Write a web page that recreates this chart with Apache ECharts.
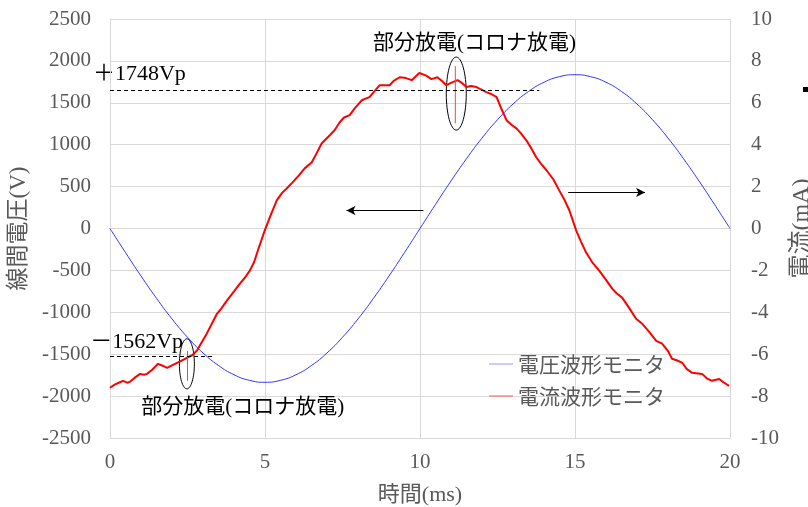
<!DOCTYPE html>
<html><head><meta charset="utf-8">
<script src="https://cdn.jsdelivr.net/npm/echarts@6/dist/echarts.min.js"></script>
<style>html,body{margin:0;padding:0;background:#fff}#c{width:808px;height:507px}</style>
</head><body><div id="c"></div>
<script>
// ---- data ----
const voltageTimes = [0,0.5,1,1.5,2,2.5,3,3.5,4,4.5,5,5.5,6,6.5,7,7.5,8,8.5,9,9.5,10,10.5,11,11.5,12,12.5,13,13.5,14,14.5,15,15.5,16,16.5,17,17.5,18,18.5,19,19.5,20];
const voltageValues = [0,-287,-567,-833,-1079,-1298,-1485,-1635,-1745,-1812,-1835,-1812,-1745,-1635,-1485,-1298,-1079,-833,-567,-287,0,287,567,833,1079,1298,1485,1635,1745,1812,1835,1812,1745,1635,1485,1298,1079,833,567,287,0];
const currentTimes = [0,0.15,0.3,0.42,0.55,0.64,0.8,0.97,1.1,1.19,1.35,1.55,1.7,1.84,2.03,2.25,2.48,2.65,2.8,2.95,3.12,3.3,3.45,3.6,3.77,4.0,4.19,4.35,4.51,4.65,4.77,4.99,5.2,5.38,5.55,5.7,5.89,6.1,6.28,6.51,6.65,6.83,7.09,7.25,7.41,7.55,7.73,7.9,8.12,8.37,8.5,8.7,9.02,9.15,9.34,9.5,9.73,9.98,10.2,10.37,10.56,10.7,10.85,11.0,11.21,11.35,11.5,11.65,11.82,12.0,12.14,12.3,12.47,12.6,12.79,12.95,13.11,13.25,13.43,13.6,13.75,13.9,14.08,14.3,14.49,14.65,14.82,15.04,15.2,15.36,15.55,15.78,16.0,16.2,16.35,16.52,16.75,16.97,17.17,17.4,17.62,17.81,18.0,18.13,18.3,18.46,18.6,18.78,19.1,19.25,19.42,19.65,19.8,19.97];
const currentValues = [-7.6,-7.45,-7.35,-7.27,-7.36,-7.32,-7.12,-6.94,-6.98,-6.94,-6.75,-6.46,-6.55,-6.65,-6.51,-6.35,-6.17,-6.05,-5.84,-5.45,-5.02,-4.5,-4.07,-3.8,-3.44,-3.0,-2.63,-2.35,-2.01,-1.6,-1.05,-0.1,0.7,1.34,1.7,1.91,2.2,2.55,2.87,3.16,3.55,4.07,4.45,4.7,5.07,5.3,5.41,5.75,6.12,6.27,6.5,6.84,6.84,7.05,7.22,7.2,7.08,7.42,7.3,7.13,7.22,7.05,6.84,6.95,7.08,6.95,6.75,6.8,6.75,6.62,6.51,6.42,6.27,5.8,5.17,4.95,4.78,4.55,4.21,3.8,3.4,3.1,2.78,2.35,1.82,1.4,0.86,-0.1,-0.65,-1.15,-1.6,-2.01,-2.45,-2.87,-3.1,-3.3,-3.8,-4.31,-4.55,-4.95,-5.36,-5.5,-5.85,-6.22,-6.3,-6.41,-6.7,-6.89,-6.94,-7.15,-7.27,-7.18,-7.35,-7.51];
// partial discharge pulses: [time, top, bottom]
const pulseTimes = [11.14, 2.50];
const pulseTops = [7.75, -5.84];
const pulseBottoms = [5.02, -7.27];
// reference levels (left axis)
const posLevel = 1650, posLevelEnd = 13.85;
const negLevel = -1530, negLevelEnd = 3.3;
const xTickLabels = ['0','5','10','15','20'];

const seriesNames = ['電圧波形モニタ','電流波形モニタ'];
const serif = '"Liberation Serif","Times New Roman","Noto Sans CJK JP",serif';
const cjk = '"Noto Sans CJK JP","Liberation Serif",sans-serif';
const mixed = '"Liberation Serif","Noto Sans CJK JP",serif';
const grayText = '#595959';
const gridColor = '#d9d9d9';

const voltageData = voltageTimes.map((t,i)=>[t, voltageValues[i]]);
const currentData = currentTimes.map((t,i)=>[t, currentValues[i]]);
const pulseData = [];
pulseTimes.forEach((t,i)=>{ if(i) pulseData.push(null); pulseData.push([t,pulseTops[i]],[t,pulseBottoms[i]]); });

const chart = echarts.init(document.getElementById('c'));
chart.setOption({
  animation:false,
  backgroundColor:'#fff',
  grid:{left:110,right:78,top:19,bottom:69,show:false,containLabel:false,outerBoundsMode:'none'},
  legend:{
    data:seriesNames.map(n=>({name:n,icon:'rect'})), orient:'vertical', left:484, top:347,
    itemWidth:24, itemHeight:1, itemGap:8,
    textStyle:{fontFamily:cjk,fontSize:21,color:grayText,lineHeight:24},
    selectedMode:false
  },
  xAxis:{
    type:'value',min:0,max:20,interval:5,
    axisLine:{show:true,lineStyle:{color:gridColor}},
    axisTick:{show:false},
    splitLine:{show:true,lineStyle:{color:gridColor}},
    axisLabel:{fontFamily:serif,fontSize:21,color:grayText,margin:14,
      formatter:v=>xTickLabels[Math.round(v/5)]},
    name:'時間(ms)',nameLocation:'middle',nameGap:46,
    nameTextStyle:{fontFamily:mixed,fontSize:22,color:grayText}
  },
  yAxis:[{
    type:'value',min:-2500,max:2500,interval:500,
    axisLine:{show:true,lineStyle:{color:gridColor}},
    axisTick:{show:false},
    splitLine:{show:true,lineStyle:{color:gridColor}},
    axisLabel:{fontFamily:serif,fontSize:21,color:grayText,margin:19,formatter:v=>String(v)},
    name:'線間電圧(V)',nameLocation:'middle',nameGap:80,nameRotate:90,
    nameTextStyle:{fontFamily:mixed,fontSize:23,color:grayText}
  },{
    type:'value',min:-10,max:10,interval:2,position:'right',
    axisLine:{show:true,lineStyle:{color:gridColor}},
    axisTick:{show:false},
    splitLine:{show:false},
    axisLabel:{fontFamily:serif,fontSize:21,color:grayText,margin:21,formatter:v=>String(v)},
    name:'電流(mA)',nameLocation:'middle',nameGap:56,nameRotate:90,
    nameTextStyle:{fontFamily:mixed,fontSize:24,color:grayText}
  }],
  series:[{
    name:seriesNames[0],type:'line',yAxisIndex:0,data:voltageData,
    smooth:true,symbol:'none',lineStyle:{color:'#3333ff',width:1},itemStyle:{color:'#9999ff'},
    markLine:{
      silent:true,symbol:['none','none'],label:{show:false},animation:false,
      data:[
        [{coord:[0,posLevel],lineStyle:{color:'#000',type:[4,3],width:1}},{coord:[posLevelEnd,posLevel]}],
        [{coord:[0,negLevel],lineStyle:{color:'#000',type:[4,3],width:1}},{coord:[negLevelEnd,negLevel]}],
        [{coord:[10.11,215],lineStyle:{color:'#000',type:'solid',width:1}},{coord:[7.63,215],symbol:'arrow',symbolSize:[7,9]}],
        [{coord:[14.78,431],lineStyle:{color:'#000',type:'solid',width:1}},{coord:[17.26,431],symbol:'arrow',symbolSize:[7,9]}]
      ]
    }
  },{
    name:seriesNames[1],type:'line',yAxisIndex:1,data:currentData,
    symbol:'none',lineStyle:{color:'#ff0000',width:2},itemStyle:{color:'#ff5555'}
  },{
    name:'pulse',type:'line',yAxisIndex:1,data:pulseData,connectNulls:false,
    symbol:'none',lineStyle:{color:'#ff4040',width:1}
  }]
});

const pV = (t,v)=>chart.convertToPixel({seriesIndex:0},[t,v]);
const pI = (t,i)=>chart.convertToPixel({seriesIndex:1},[t,i]);
const a1 = pV(-0.55,1842), a2 = pV(-0.64,-1352);
const c1 = pV(11.76,2213), c2 = pV(4.28,-2141);
const e1 = pI(11.17,6.44), e2 = pI(2.48,-6.46);
chart.setOption({graphic:[
  {type:'text',x:a1[0],y:a1[1],style:{text:'＋1748Vp',font:'22px '+serif,fill:'#000',align:'left',verticalAlign:'middle'}},
  {type:'text',x:a2[0],y:a2[1],style:{text:'－1562Vp',font:'22px '+serif,fill:'#000',align:'left',verticalAlign:'middle'}},
  {type:'text',x:c1[0],y:c1[1],style:{text:'部分放電(コロナ放電)',font:'21px '+mixed,fill:'#000',align:'center',verticalAlign:'middle'}},
  {type:'text',x:c2[0],y:c2[1],style:{text:'部分放電(コロナ放電)',font:'21px '+mixed,fill:'#000',align:'center',verticalAlign:'middle'}},
  {type:'ellipse',shape:{cx:e1[0],cy:e1[1],rx:10,ry:36.5},style:{fill:'none',stroke:'#000',lineWidth:1}},
  {type:'ellipse',shape:{cx:e2[0],cy:e2[1],rx:7.5,ry:25},style:{fill:'none',stroke:'#000',lineWidth:1}},
  {type:'rect',shape:{x:803,y:87,width:5,height:5},style:{fill:'#000'}}
]});
</script>
</body></html>
